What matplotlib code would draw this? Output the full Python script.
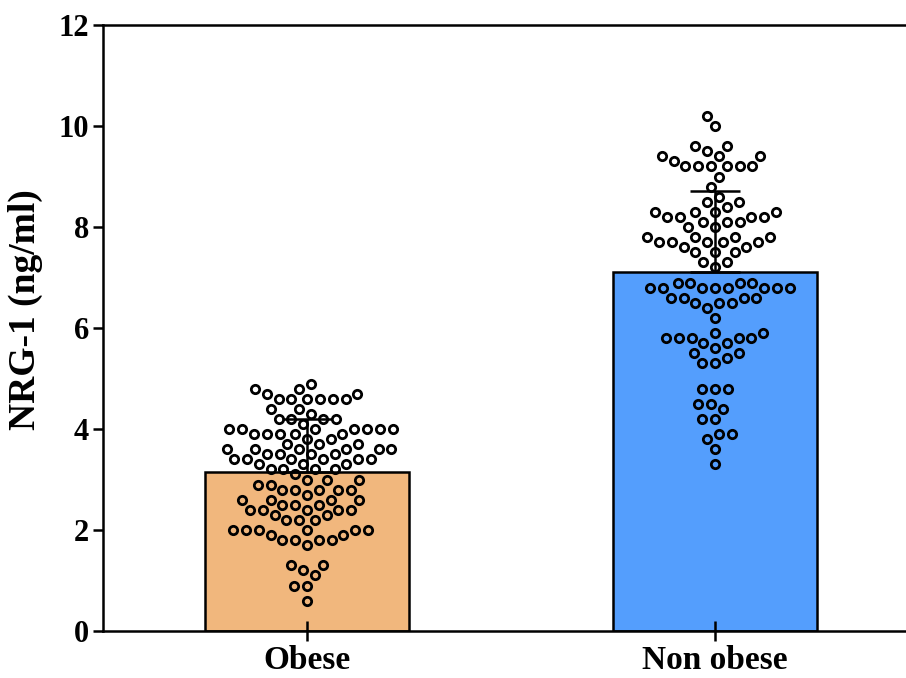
import numpy as np
import matplotlib
matplotlib.use("Agg")
import matplotlib.pyplot as plt

plt.rcParams["font.family"] = ["Liberation Serif", "DejaVu Serif"]
plt.rcParams["font.weight"] = "bold"

groups = ["Obese", "Non obese"]
bar_colors = ["#F1B77D", "#549EFD"]
means = [3.15, 7.10]
sds = [1.05, 1.62]

# individual NRG-1 readings (ng/ml)
obese = ([4.9] + [4.8] * 2 + [4.7] * 2 + [4.6] * 6 + [4.4] * 2 + [4.3] + [4.2] * 4 + [4.1]
         + [4.0] * 7 + [3.9] * 5 + [3.8] * 2 + [3.7] * 3 + [3.6] * 6 + [3.5] * 4 + [3.4] * 6
         + [3.3] * 3 + [3.2] * 4 + [3.1] + [3.0] * 3 + [2.9] * 2 + [2.8] * 5 + [2.7]
         + [2.6] * 4 + [2.5] * 3 + [2.4] * 5 + [2.3] * 2 + [2.2] * 3 + [2.0] * 6 + [1.9] * 2
         + [1.8] * 4 + [1.7] + [1.3] * 2 + [1.2] + [1.1] + [0.9] * 2 + [0.6])
non_obese = ([10.2, 10.0] + [9.6] * 2 + [9.5] + [9.4] * 3 + [9.3] + [9.2] * 6 + [9.0] + [8.8]
             + [8.6] + [8.5] * 2 + [8.4] + [8.3] * 4 + [8.2] * 4 + [8.1] * 3 + [8.0] * 2
             + [7.8] * 4 + [7.7] * 5 + [7.6] * 2 + [7.5] * 3 + [7.3] * 2 + [7.2] + [6.9] * 4
             + [6.8] * 8 + [6.6] * 4 + [6.5] * 3 + [6.4] + [6.2] + [5.9] * 2 + [5.8] * 5
             + [5.7] * 2 + [5.6] + [5.5] * 2 + [5.4] + [5.3] * 2 + [4.8] * 3 + [4.5] * 2
             + [4.4] + [4.2] * 2 + [3.9] * 2 + [3.8] + [3.6] + [3.3])
samples = [obese, non_obese]

W, H, DPI = 906, 678, 100
fig = plt.figure(figsize=(W / DPI, H / DPI), dpi=DPI)
ax = fig.add_axes([103 / W, 47 / H, (W - 103) / W, 606 / H])
ax.set_xlim(-0.5, 1.468)
ax.set_ylim(0, 12)

xpos = np.arange(len(groups))
ax.bar(xpos, means, width=0.5, color=bar_colors, edgecolor="black", linewidth=1.8, zorder=1)


def swarm_offsets(vals, d):
    """Beeswarm x offsets (pixels) for y values given in pixels."""
    order = np.argsort(vals)
    placed = []
    offs = np.zeros(len(vals))
    for i in order:
        y = vals[i]
        cands = [0.0]
        near = [(px, py) for px, py in placed if abs(py - y) < d]
        for px, py in near:
            dx = np.sqrt(d * d - (py - y) ** 2)
            cands += [px - dx, px + dx]
        cands.sort(key=abs)
        for c in cands:
            if all((c - px) ** 2 + (y - py) ** 2 >= d * d - 1e-6 for px, py in near):
                offs[i] = c
                placed.append((c, y))
                break
    return offs


fig.canvas.draw()
to_px = ax.transData
inv = ax.transData.inverted()
for x0, vals in zip(xpos, samples):
    vals = np.asarray(vals, dtype=float)
    pix = to_px.transform(np.column_stack([np.full(len(vals), x0), vals]))
    offs = swarm_offsets(pix[:, 1], 12.8)
    data = inv.transform(np.column_stack([pix[:, 0] + offs, pix[:, 1]]))
    ax.plot(data[:, 0], vals, "o", ms=6.0, mfc="none", mec="black", mew=2.0,
            zorder=3, clip_on=False)

ax.errorbar(xpos, means, yerr=[np.zeros(len(means)), sds], fmt="none", ecolor="black",
            elinewidth=1.8, capsize=18, capthick=1.8, zorder=4)

for side in ["left", "bottom", "top"]:
    ax.spines[side].set_linewidth(1.8)
ax.spines["right"].set_visible(False)

ax.set_yticks(np.arange(0, 13, 2))
ax.tick_params(axis="y", direction="out", length=7, width=1.8, pad=3, labelsize=22)
ax.set_xticks(xpos)
ax.set_xticklabels(groups)
ax.tick_params(axis="x", direction="inout", length=14, width=1.8, pad=3, labelsize=24)
for lab in ax.get_yticklabels() + ax.get_xticklabels():
    lab.set_fontweight("bold")

ax.set_ylabel("NRG-1 (ng/ml)", fontsize=27, fontweight="bold")
ax.yaxis.set_label_coords(-0.075, 0.531)

fig.savefig("out.png", dpi=DPI)
